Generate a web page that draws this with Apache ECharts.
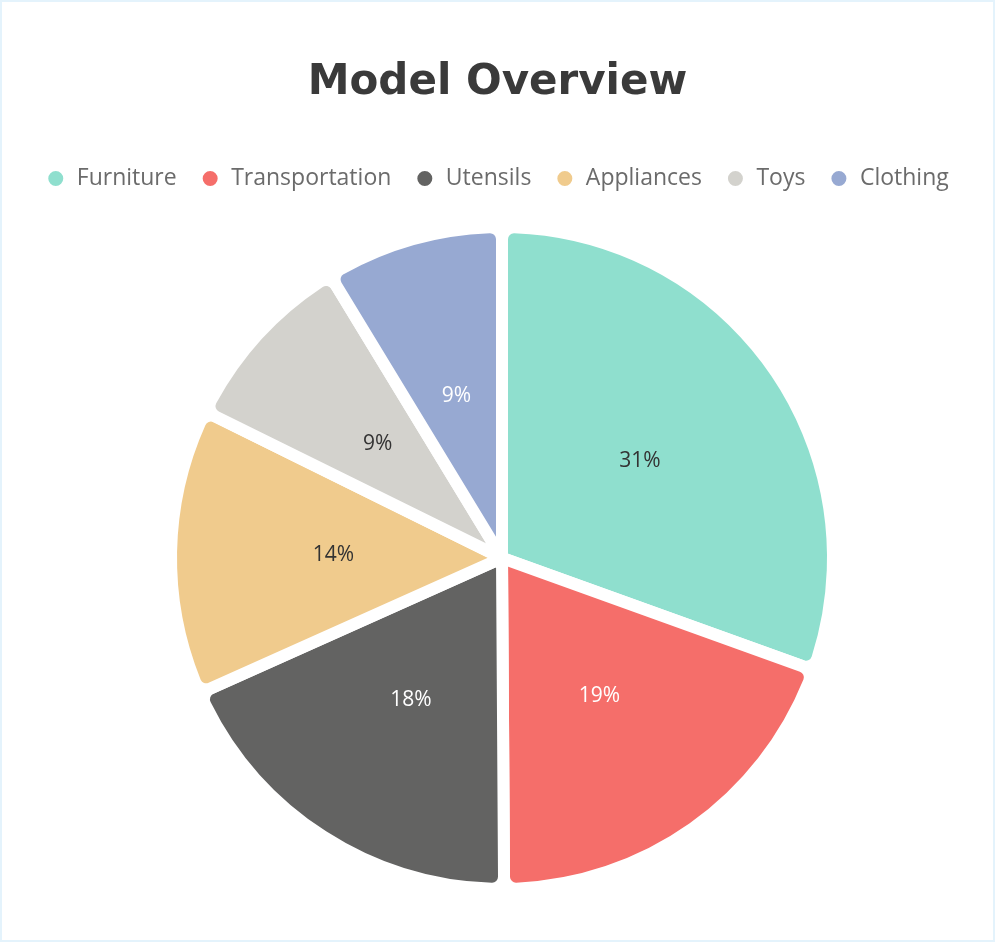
<!DOCTYPE html>
<html>
<head>
<meta charset="utf-8">
<script src="https://cdn.jsdelivr.net/npm/echarts@6/dist/echarts.min.js"></script>
<style>
html,body{margin:0;padding:0;background:#fff;}
#chart{width:995px;height:942px;box-sizing:border-box;border:2px solid #e4f3fc;}
</style>
</head>
<body>
<div id="chart"></div>
<script>
const categories = ['Furniture', 'Transportation', 'Utensils', 'Appliances', 'Toys', 'Clothing'];
const values = [30.5, 19.4, 18.4, 14.0, 9.0, 8.7];
const colors = ['#8fdfce', '#f56e6a', '#636362', '#f0cb8d', '#d3d2cd', '#97a9d2'];
const labelColors = ['#333333', '#ffffff', '#ffffff', '#333333', '#333333', '#ffffff'];

const chart = echarts.init(document.getElementById('chart'), null, {renderer: 'canvas'});
chart.setOption({
  animation: false,
  title: {
    text: 'Model Overview',
    left: 'center',
    top: 55,
    textStyle: {fontFamily: 'DejaVu Sans', fontWeight: 'bold', fontSize: 42, color: '#3a3a3a'}
  },
  legend: {
    top: 160,
    left: 'center',
    icon: 'circle',
    itemWidth: 32,
    itemHeight: 17,
    itemGap: 24,
    textStyle: {fontFamily: 'Open Sans', fontWeight: 500, fontSize: 23, color: '#6b6b6b'},
    data: categories
  },
  series: [{
    type: 'pie',
    center: [500, 556],
    radius: [0, 331],
    startAngle: 90,
    clockwise: true,
    percentPrecision: 0,
    itemStyle: {borderColor: '#ffffff', borderWidth: 12, borderRadius: 12},
    label: {
      show: true,
      position: 'inside',
      formatter: '{d}%',
      fontFamily: 'Open Sans',
      fontWeight: 500,
      fontSize: 21
    },
    labelLine: {show: false},
    emphasis: {disabled: true},
    data: categories.map((c, i) => ({
      name: c,
      value: values[i],
      itemStyle: {color: colors[i]},
      label: {color: labelColors[i]}
    }))
  }]
});
</script>
</body>
</html>
